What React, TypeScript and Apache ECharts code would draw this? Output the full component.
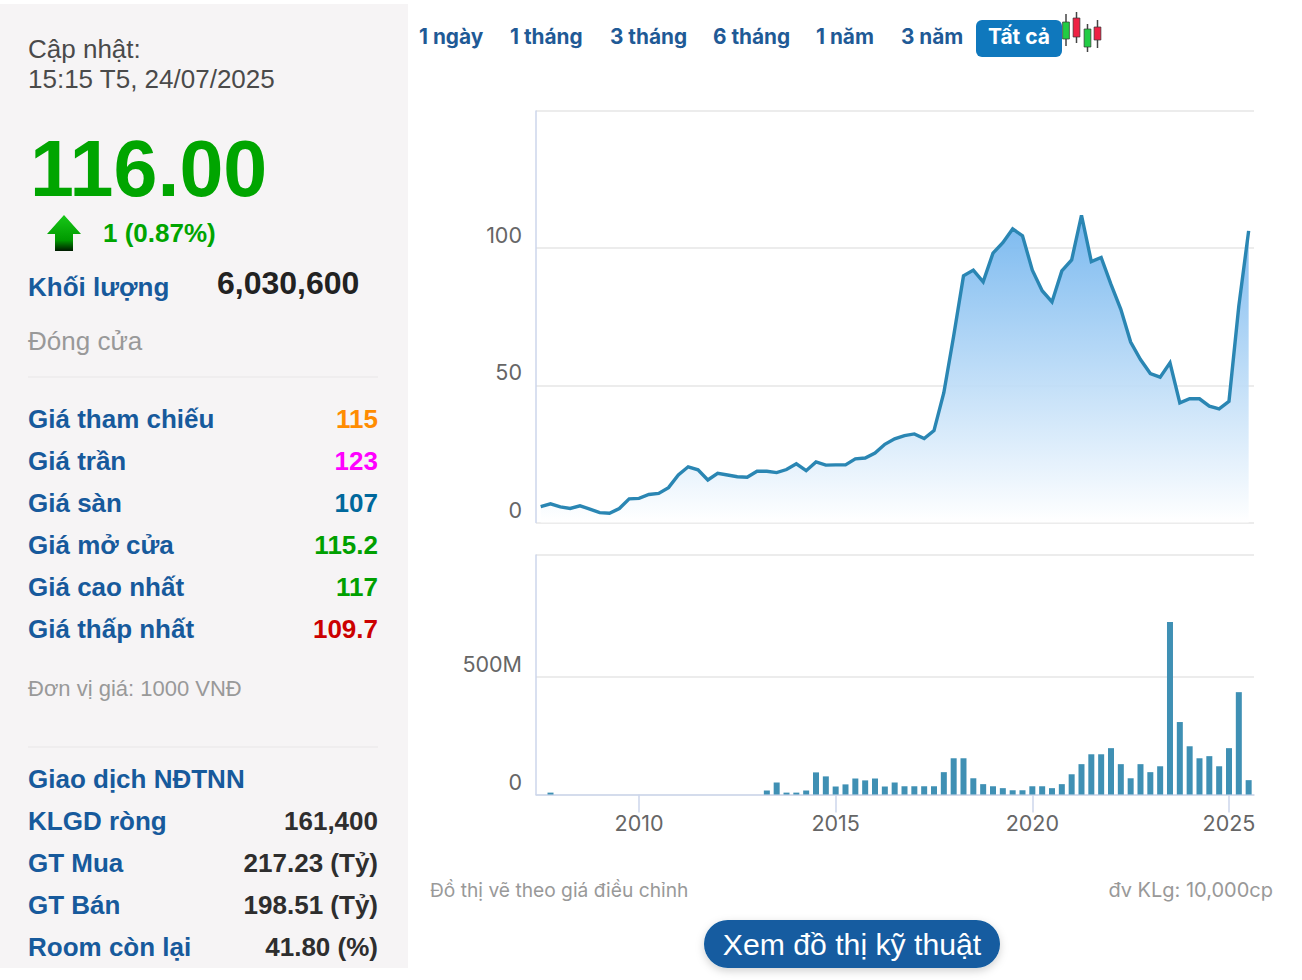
import React, { useEffect, useRef } from "react";
import * as echarts from "echarts";

const startYear = 2007.5;
const priceValues = [5.8, 6.8, 5.7, 5.1, 6.1, 4.9, 3.6, 3.4, 5.1, 8.6, 8.8, 10.2, 10.6, 12.7, 17.3, 20.3, 19.2, 15.5, 17.9, 17.3, 16.7, 16.5, 18.7, 18.7, 18.2, 19.3, 21.4, 18.9, 22.1, 20.9, 21, 21, 23.2, 23.5, 25.3, 28.5, 30.5, 31.7, 32.3, 30.6, 33.5, 47.3, 68, 89.9, 92, 87.7, 98.2, 102, 107, 104.5, 92, 84.5, 80.4, 91.7, 95.7, 112, 95.1, 96.6, 86.8, 77.7, 65.8, 59.4, 54.3, 53, 58.2, 43.6, 45.1, 45.1, 42.4, 41.4, 44.2, 78.9, 106.3];
const volumeValues = [0, 8, 0, 0, 0, 0, 0, 0, 0, 0, 0, 0, 0, 0, 0, 0, 0, 0, 0, 0, 0, 0, 0, 17, 51, 8, 8, 17, 94, 77, 34, 43, 68, 60, 68, 34, 51, 35, 35, 35, 35, 95, 154, 154, 69, 44, 35, 27, 18, 18, 35, 35, 27, 44, 86, 129, 171, 171, 197, 129, 69, 129, 95, 120, 733, 308, 205, 154, 163, 120, 197, 435, 61];
const yearTicks = [2010, 2015, 2020, 2025];
const priceTicks = [0, 50, 100, 150];
const volumeLabelTicks = [0, 500];
const volumeTop = 1018;
const tabs = ["1 ngày", "1 tháng", "3 tháng", "6 tháng", "1 năm", "3 năm"];
const tabX = [419, 510, 610, 713, 816, 901];
const priceRows = [
  ["Giá tham chiếu", "115", "#ff8c00"],
  ["Giá trần", "123", "#ff00ff"],
  ["Giá sàn", "107", "#00689c"],
  ["Giá mở cửa", "115.2", "#00a000"],
  ["Giá cao nhất", "117", "#00a000"],
  ["Giá thấp nhất", "109.7", "#cc0000"],
];
const foreignRows = [
  ["Giao dịch NĐTNN", ""],
  ["KLGD ròng", "161,400"],
  ["GT Mua", "217.23 (Tỷ)"],
  ["GT Bán", "198.51 (Tỷ)"],
  ["Room còn lại", "41.80 (%)"],
];
// x, wickTop, wickBottom, bodyTop, bodyBottom, colour
const candles: [number, number, number, number, number, string][] = [
  [1066, 14, 46, 22, 39, "#22cc44"],
  [1076.5, 12, 43, 18, 37, "#ee2244"],
  [1087.5, 24, 52, 29, 47, "#22cc44"],
  [1097.5, 20, 48, 27, 40, "#ee2244"],
];

const SANS = '"Liberation Sans", Arial, sans-serif';
const INTER = 'Inter, "Noto Sans", sans-serif';
const BLUE = "#175a9c";

function txt(x: number, y: number, text: string, font: string, fill: string, align = "left") {
  return { type: "text", x, y, silent: true, style: { x: 0, y: 0, text, font, fill, align, verticalAlign: "middle" } };
}

export default function App() {
  const ref = useRef<HTMLDivElement>(null);
  useEffect(() => {
    document.body.style.margin = "0";
    document.body.style.background = "#fff";
    const chart = echarts.init(ref.current!, undefined, { renderer: "svg" });
    const quarters = priceValues.map((_, i) => startYear + i * 0.25);
    const graphic: any[] = [
      { type: "rect", shape: { x: 0, y: 4, width: 408, height: 964 }, style: { fill: "#f6f4f5" }, silent: true },
      txt(28, 49, "Cập nhật:", `26px ${SANS}`, "#4a4a4a"),
      txt(28, 79, "15:15 T5, 24/07/2025", `26px ${SANS}`, "#4a4a4a"),
      txt(30, 168, "116.00", `bold 79px ${SANS}`, "#00a500"),
      {
        type: "polygon",
        shape: { points: [[64, 215], [81, 234], [73, 234], [73, 251], [55, 251], [55, 234], [47, 234]] },
        style: {
          fill: new echarts.graphic.LinearGradient(0, 0, 0, 1, [
            { offset: 0, color: "#18c818" },
            { offset: 0.7, color: "#009a00" },
            { offset: 1, color: "#001a00" },
          ]),
        },
        silent: true,
      },
      txt(103, 233, "1 (0.87%)", `bold 26px ${SANS}`, "#00a500"),
      txt(28, 287, "Khối lượng", `bold 26px ${SANS}`, BLUE),
      txt(217, 283, "6,030,600", `bold 32px ${SANS}`, "#222222"),
      txt(28, 341, "Đóng cửa", `26px ${SANS}`, "#999999"),
      { type: "line", shape: { x1: 28, y1: 377, x2: 378, y2: 377 }, style: { stroke: "#ecebeb", lineWidth: 1.5 }, silent: true },
      txt(28, 688, "Đơn vị giá: 1000 VNĐ", `22px ${SANS}`, "#999999"),
      { type: "line", shape: { x1: 28, y1: 747, x2: 378, y2: 747 }, style: { stroke: "#ecebeb", lineWidth: 1.5 }, silent: true },
      { type: "rect", shape: { x: 976, y: 20, width: 86, height: 37, r: 6 }, style: { fill: "#0f78bd" }, silent: true },
      txt(1019, 36, "Tất cả", `bold 21px ${INTER}`, "#ffffff", "center"),
      txt(430, 890, "Đồ thị vẽ theo giá điều chỉnh", `19.2px ${INTER}`, "#999999"),
      txt(1273, 890, "đv KLg: 10,000cp", `20px ${INTER}`, "#999999", "right"),
      {
        type: "rect",
        shape: { x: 704, y: 920, width: 296, height: 48, r: 24 },
        style: { fill: "#125ca0", shadowBlur: 8, shadowOffsetY: 3, shadowColor: "rgba(0,0,0,0.18)" },
        silent: true,
      },
      txt(852, 944, "Xem đồ thị kỹ thuật", `30.2px ${SANS}`, "#ffffff", "center"),
    ];
    priceRows.forEach(([label, value, color], i) => {
      const y = 419 + i * 42;
      graphic.push(txt(28, y, label, `bold 26px ${SANS}`, BLUE));
      graphic.push(txt(378, y, value, `bold 26px ${SANS}`, color, "right"));
    });
    foreignRows.forEach(([label, value], i) => {
      const y = 779 + i * 42;
      graphic.push(txt(28, y, label, `bold 26px ${SANS}`, BLUE));
      if (value) graphic.push(txt(378, y, value, `bold 26px ${SANS}`, "#2e2e2e", "right"));
    });
    tabs.forEach((t, i) => graphic.push(txt(tabX[i], 36, t, `bold 20.8px ${INTER}`, "#1f5a96")));
    candles.forEach(([x, wt, wb, bt, bb, color]) => {
      graphic.push({ type: "line", shape: { x1: x, y1: wt, x2: x, y2: wb }, style: { stroke: "#444444", lineWidth: 1.5 }, silent: true });
      graphic.push({ type: "rect", shape: { x: x - 3.4, y: bt, width: 6.8, height: bb - bt }, style: { fill: color, stroke: "#333333", lineWidth: 0.7 }, silent: true });
    });

    const splitLine = { show: true, lineStyle: { color: "#e6e6e6", width: 1.5 } };
    const axisLine = { show: true, lineStyle: { color: "#ccd6eb", width: 1.5 } };
    const labelStyle = { color: "#666666", fontFamily: INTER, fontSize: 21.5 };
    const yLabelStyle = { ...labelStyle, verticalAlign: "bottom", lineHeight: 22, padding: [0, 0, 2, 0] };
    const xRange = { min: 2007.381, max: 2025.636 };

    chart.setOption({
      animation: false,
      backgroundColor: "#ffffff",
      graphic,
      grid: [
        { left: 536, top: 111, width: 718, height: 411.5 },
        { left: 536, top: 555, width: 718, height: 239.5 },
      ],
      xAxis: [
        { type: "value", gridIndex: 0, ...xRange, show: false, splitLine: { show: false } },
        {
          type: "value",
          gridIndex: 1,
          ...xRange,
          axisLine: { ...axisLine, onZero: false },
          axisTick: { show: true, length: 18, customValues: yearTicks, lineStyle: { color: "#ccd6eb", width: 1.5 } },
          axisLabel: { ...labelStyle, customValues: yearTicks, margin: 17, formatter: (v: number) => String(v), showMinLabel: true, showMaxLabel: true, hideOverlap: false },
          splitLine: { show: false },
        },
      ],
      yAxis: [
        {
          type: "value",
          gridIndex: 0,
          min: 0,
          max: 150,
          interval: 50,
          axisLine,
          axisTick: { show: false },
          axisLabel: {
            ...yLabelStyle,
            margin: 14,
            formatter: (v: number) => (v === 150 ? "" : String(v)),
            customValues: priceTicks.slice(0, 3),
          },
          splitLine,
        },
        {
          type: "value",
          gridIndex: 1,
          min: 0,
          max: volumeTop,
          axisLine,
          axisTick: { show: false, customValues: [...volumeLabelTicks, volumeTop] },
          axisLabel: {
            ...yLabelStyle,
            margin: 14,
            customValues: volumeLabelTicks,
            formatter: (v: number) => (v === 0 ? "0" : `${v}M`),
          },
          splitLine,
        },
      ],
      series: [
        {
          type: "line",
          xAxisIndex: 0,
          yAxisIndex: 0,
          data: quarters.map((q, i) => [q, priceValues[i]]),
          symbol: "none",
          smooth: false,
          lineStyle: { color: "#2a86b3", width: 3.4, join: "miter" },
          areaStyle: {
            opacity: 0.92,
            color: new echarts.graphic.LinearGradient(0, 0, 0, 1, [
              { offset: 0, color: "#6fb3ee" },
              { offset: 1, color: "#ffffff" },
            ]),
          },
        },
        {
          type: "bar",
          xAxisIndex: 1,
          yAxisIndex: 1,
          data: quarters.map((q, i) => [q, volumeValues[i]]),
          barWidth: 6,
          itemStyle: { color: "#3f90b4" },
        },
      ],
    });
    return () => chart.dispose();
  }, []);
  return <div ref={ref} style={{ position: "absolute", left: 0, top: 0, width: 1302, height: 980 }} />;
}
